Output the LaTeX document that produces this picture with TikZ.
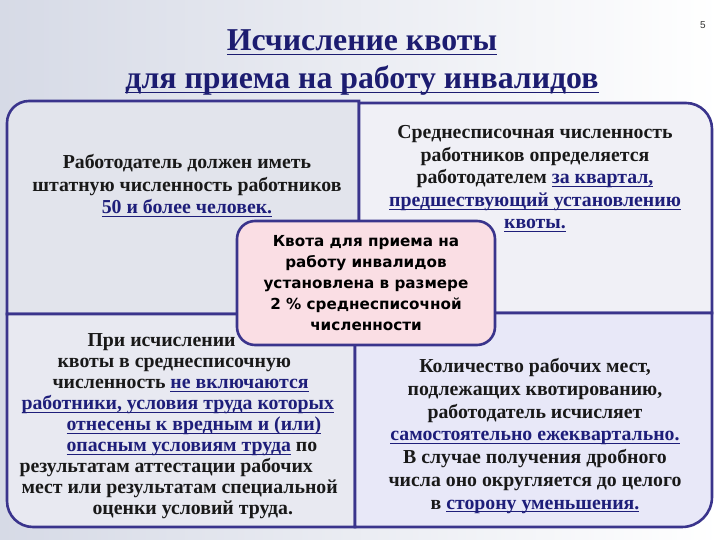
\documentclass[tikz,border=0pt]{standalone}
\usepackage{fontspec}
\setmainfont{Liberation Serif}
\newfontfamily\boxfont{DejaVu Sans}
\newfontfamily\numfont{Liberation Sans}
\usetikzlibrary{positioning}

\definecolor{framecol}{RGB}{58,52,140}
\definecolor{linkcol}{RGB}{30,30,122}
\definecolor{titlecol}{RGB}{28,28,112}
\definecolor{bgleft}{RGB}{214,218,230}
\definecolor{tlfill}{RGB}{226,228,236}
\definecolor{trfill}{RGB}{240,240,246}
\definecolor{blfill}{RGB}{232,233,241}
\definecolor{brfill}{RGB}{232,232,248}
\definecolor{quotafill}{RGB}{250,222,228}

% underline: thickness, depth, text
\newcommand{\kvline}[3]{{\setbox0\hbox{#3}\leavevmode\rlap{\rule[-#2]{\wd0}{#1}}\box0}}
\newcommand{\kv}[1]{\textcolor{linkcol}{\kvline{1.1pt}{3.4pt}{#1}}}
\newcommand{\bodysize}{\fontsize{19.8}{22.5}\selectfont}

\begin{document}
\begin{tikzpicture}[x=1pt,y=1pt,
  quad/.style={draw=framecol,line width=2.6pt},
  bodytext/.style={text=black!90,font=\bodysize\bfseries,align=center},
  centerbox/.style={draw=framecol,line width=2.6pt,fill=quotafill,rounded corners=18pt,
    minimum width=258pt,minimum height=124pt,align=center,
    font={\boxfont\bfseries\fontsize{15.2}{21}\selectfont}}]
\useasboundingbox (0,0) rectangle (720,540);
\shade[left color=bgleft,right color=white] (0,0) rectangle (720,540);

% title
\node[text=titlecol,align=center,font={\bfseries\fontsize{31.8}{38}\selectfont}] (title) at (362,477)
  {\kvline{1.8pt}{4.5pt}{Исчисление квоты}\\\kvline{1.8pt}{4.5pt}{для приема на работу инвалидов}};
\node[text=black!80,font={\numfont\fontsize{10}{12}\selectfont}] (pagenum) at (703,515) {5};

% four quadrants
\filldraw[quad,fill=tlfill] (7,226) -- (7,417) arc[start angle=180,end angle=90,radius=22] -- (359,439) -- (359,226) -- cycle;
\filldraw[quad,fill=trfill] (359,227) -- (359,437) -- (686,437) arc[start angle=90,end angle=0,radius=26] -- (712,227) -- cycle;
\filldraw[quad,fill=blfill] (7,226) -- (355,226) -- (355,13) -- (33,13) arc[start angle=270,end angle=180,radius=26] -- cycle;
\filldraw[quad,fill=brfill] (355,227) -- (712,227) -- (712,43) arc[start angle=0,end angle=-90,radius=30] -- (355,13) -- cycle;

\node[bodytext] (employer) at (187,354)
  {Работодатель должен иметь\\штатную численность работников\\\kv{50 и более человек.}};
\node[bodytext] (average) at (535,361)
  {Среднесписочная численность\\работников определяется\\работодателем \kv{за квартал,}\\\kv{предшествующий установлению}\\\kv{квоты.}};
\node[bodytext,align=left,anchor=west,font={\fontsize{19.8}{21}\selectfont\bfseries}] (exclusion) at (16,114)
  {\hspace*{68pt}При исчислении\\
   \hspace*{38pt}квоты в среднесписочную\\
   \hspace*{33pt}численность \kv{не включаются}\\
   \hspace*{2pt}\kv{работники, условия труда которых}\\
   \hspace*{47pt}\kv{отнесены к вредным и (или)}\\
   \hspace*{47pt}\kv{опасным условиям труда} по\\
   результатам аттестации рабочих\\
   \hspace*{2pt}мест или результатам специальной\\
   \hspace*{73pt}оценки условий труда.};
\node[bodytext,font={\fontsize{19.8}{22.7}\selectfont\bfseries}] (places) at (535,104)
  {Количество рабочих мест,\\подлежащих квотированию,\\работодатель исчисляет\\\kv{самостоятельно ежеквартально.}\\В случае получения дробного\\числа оно округляется до целого\\в \kv{сторону уменьшения.}};

% centre
\node[centerbox] (quota) at (366,257)
  {Квота для приема на\\работу инвалидов\\установлена в размере\\2 \% среднесписочной\\численности};
\end{tikzpicture}
\end{document}
